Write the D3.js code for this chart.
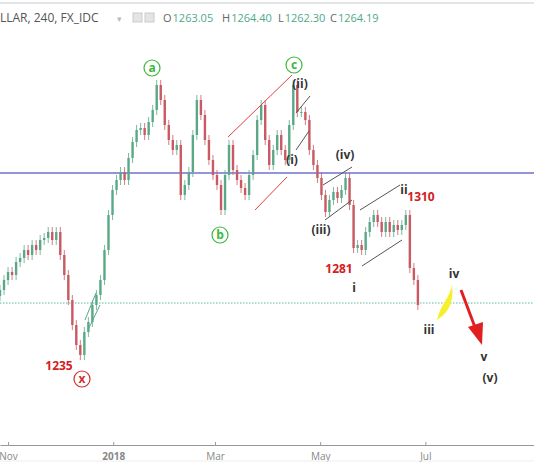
<!DOCTYPE html>
<html><head><meta charset="utf-8">
<script src="https://cdn.jsdelivr.net/npm/d3@7"></script>
<style>body{margin:0;background:#fff}svg{display:block}text{font-family:"Open Sans",Arial,sans-serif}</style>
</head><body><div id="chart"></div>
<script>
// closes, one every ~2.3 days from late Oct 2017
const closes = [1270.5,1275.5,1279.5,1278,1284.5,1286.5,1290.5,1288,1293,1290.5,1295.5,1296.5,1299.5,1295.5,1299.5,1288,1278,1265.5,1253,1243,1238,1249.5,1254.5,1263,1268,1275.5,1290.5,1308,1320.5,1325.5,1329.5,1325.5,1336.5,1344.5,1350.5,1351.5,1348,1354.5,1360.5,1373,1365.5,1353,1345.5,1340.5,1343,1318,1323,1329.5,1348,1365.5,1358,1345.5,1335.5,1328,1323,1310.5,1328,1343,1330.5,1325.5,1321.5,1318,1328,1338,1355.5,1363,1345.5,1333,1340.5,1348,1340.5,1335.5,1353,1373,1359.5,1359.5,1355.5,1340.5,1333,1326.5,1318,1309.5,1315.5,1319.5,1316.5,1320.5,1326.5,1313,1291.5,1293,1290.5,1299.5,1304.5,1308,1304.5,1299.5,1304.5,1299.5,1303,1300.5,1303,1308,1281.5,1275.5,1263];
const tickDates = ['2017-11-01','2018-01-01','2018-03-01','2018-05-01','2018-07-01'];
const tickLabels = ['Nov','2018','Mar','May','Jul'];
const resistance = 1329;
const lastPrice = 1264;

const W = 534, H = 462;
const svg = d3.select('#chart').append('svg').attr('width', W).attr('height', H);

const x = d3.scaleTime()
    .domain([new Date(2017, 9, 27, 8), new Date(2018, 8, 2)])
    .range([0, W]);
const y = d3.scaleLinear().domain([1264, 1235]).range([303, 361]);

const start = new Date(2017, 9, 27, 8);
const step = 2.33;
const candles = closes.map((c, i) => {
    let o = i == 0 ? c - 3 : closes[i - 1];
    return {
        date: d3.timeHour.offset(start, Math.round(i * step * 24)),
        o: o, c: c,
        h: Math.max(o, c) + 2.5,
        l: Math.min(o, c) - 2.5
    };
});

// header
svg.append('line').attr('x1', 0).attr('x2', W).attr('y1', 3).attr('y2', 3)
    .attr('stroke', '#e2e4e8').attr('stroke-width', 2);
svg.append('text').attr('x', 0).attr('y', 22).attr('font-size', 12).attr('fill', '#555')
    .text('LLAR, 240, FX_IDC');
svg.append('text').attr('x', 117).attr('y', 22).attr('font-size', 9).attr('fill', '#bbb').text('▾');
[133, 145].forEach(px => svg.append('rect').attr('x', px).attr('y', 13).attr('width', 9).attr('height', 9)
    .attr('fill', '#e4e4e4').attr('stroke', '#ccc'));
const ohlc = [['O', '1263.05', 163], ['H', '1264.40', 222], ['L', '1262.30', 278], ['C', '1264.19', 330]];
ohlc.forEach(d => {
    let t = svg.append('text').attr('x', d[2]).attr('y', 22).attr('font-size', 11);
    t.append('tspan').attr('fill', '#666').text(d[0]);
    t.append('tspan').attr('fill', '#4fa88a').attr('dx', 1).text(d[1]);
});

// horizontal levels
svg.append('line').attr('x1', 0).attr('x2', W).attr('y1', y(resistance)).attr('y2', y(resistance))
    .attr('stroke', '#2b2bb5').attr('stroke-width', 1.2);
svg.append('line').attr('x1', 0).attr('x2', W).attr('y1', y(lastPrice)).attr('y2', y(lastPrice))
    .attr('stroke', '#5fb89a').attr('stroke-dasharray', '1.5,1.5');

// candles
const g = svg.append('g');
candles.forEach(d => {
    let col = d.c >= d.o ? '#5aa888' : '#c95a63';
    let cx = x(d.date);
    g.append('line').attr('x1', cx).attr('x2', cx).attr('y1', y(d.h)).attr('y2', y(d.l))
        .attr('stroke', col).attr('stroke-width', 0.8);
    g.append('rect').attr('x', cx - 1.2).attr('width', 2.4)
        .attr('y', y(Math.max(d.o, d.c))).attr('height', Math.max(1, Math.abs(y(d.o) - y(d.c))))
        .attr('fill', col);
});

// channels
function seg(x1, y1, x2, y2, col) {
    svg.append('line').attr('x1', x1).attr('y1', y1).attr('x2', x2).attr('y2', y2)
        .attr('stroke', col).attr('stroke-width', 1);
}
seg(228, 137, 292, 75, '#e04040'); seg(255, 210, 287, 177, '#e04040');
seg(296, 113, 310, 96, '#555'); seg(296, 150, 309, 131, '#555');
seg(323, 185, 352, 167, '#555'); seg(325, 220, 352, 200, '#555');
seg(360, 210, 400, 185, '#555'); seg(362, 266, 402, 240, '#555');
seg(85, 320, 96, 293, '#5aa888'); seg(88, 330, 100, 305, '#5aa888');

// yellow projection
svg.append('path').attr('d', 'M437,320 C440,305 450,298 452,285 C454,300 450,312 437,320 Z')
    .attr('fill', '#f5f02a');
// red arrow
svg.append('line').attr('x1', 461).attr('y1', 290).attr('x2', 476).attr('y2', 330)
    .attr('stroke', '#e02020').attr('stroke-width', 3);
svg.append('path').attr('d', 'M468,327 L482,345 L483,322 Z').attr('fill', '#e02020');

// circled labels
function circ(cx, cy, t, col) {
    svg.append('circle').attr('cx', cx).attr('cy', cy).attr('r', 8)
        .attr('fill', 'none').attr('stroke', col).attr('stroke-width', 1.2);
    svg.append('text').attr('x', cx).attr('y', cy + 4).attr('text-anchor', 'middle')
        .attr('font-size', 12).attr('font-weight', 'bold').attr('fill', col).text(t);
}
circ(152, 68, 'a', '#3cb83c'); circ(294, 65, 'c', '#3cb83c');
circ(220, 235, 'b', '#3cb83c'); circ(82, 379, 'x', '#d03030');

function lab(px, py, t, col) {
    svg.append('text').attr('x', px).attr('y', py).attr('text-anchor', 'middle')
        .attr('font-size', 12).attr('font-weight', 'bold').attr('fill', col).text(t);
}
lab(59, 370, '1235', '#d42020'); lab(339, 273, '1281', '#d42020'); lab(421, 201, '1310', '#d42020');
lab(300, 88, '(ii)', '#333'); lab(292, 164, '(i)', '#333'); lab(345, 159, '(iv)', '#333');
lab(321, 234, '(iii)', '#333'); lab(404, 194, 'ii', '#333'); lab(354, 292, 'i', '#333');
lab(429, 334, 'iii', '#333'); lab(454, 278, 'iv', '#333'); lab(484, 361, 'v', '#333');
lab(490, 382, '(v)', '#333');

// axis
const ax = svg.append('g').attr('transform', 'translate(0,445)')
    .call(d3.axisBottom(x).tickValues(tickDates.map(d => new Date(d + 'T00:00')))
        .tickFormat((d, i) => tickLabels[i]).tickSize(3).tickSizeOuter(0));
ax.select('.domain').attr('stroke', '#999');
ax.selectAll('.tick line').attr('stroke', '#999').attr('y2', -3);
ax.selectAll('.tick text').attr('font-size', 10).attr('fill', '#888').attr('dy', '0.9em')
    .attr('font-family', '"Open Sans",Arial,sans-serif')
    .attr('font-weight', (d, i) => i == 1 ? 'bold' : 'normal');
svg.append('line').attr('x1', 0).attr('x2', W).attr('y1', 461).attr('y2', 461).attr('stroke', '#eee');
</script></body></html>
